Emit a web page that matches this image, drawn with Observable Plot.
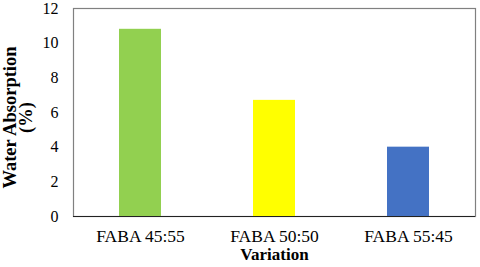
<!DOCTYPE html>
<html>
<head>
<meta charset="utf-8">
<script src="https://cdn.jsdelivr.net/npm/d3@7"></script>
<script src="https://cdn.jsdelivr.net/npm/@observablehq/plot@0.6"></script>
<style>
  html, body { margin: 0; padding: 0; background: #fff; }
  #chart svg { display: block; }
</style>
</head>
<body>
<div id="chart"></div>
<script>
const categories = ["FABA 45:55", "FABA 50:50", "FABA 55:45"];
const values = [10.8, 6.7, 4.0];
const colors = ["#92D050", "#FFFF00", "#4472C4"];
const yTicks = [0, 2, 4, 6, 8, 10, 12];
const yLabel = "Water Absorption\n(%)";
const xLabel = "Variation";

const data = categories.map((c, i) => ({category: c, value: values[i], color: colors[i]}));

const chart = Plot.plot({
  width: 480,
  height: 267,
  marginLeft: 73,
  marginRight: 5,
  marginTop: 8,
  marginBottom: 51,
  style: "font-family: 'Liberation Serif'; background: #fff; color: #000;",
  x: {domain: categories, paddingInner: 0.687, paddingOuter: 0.3435, label: null},
  y: {domain: [0, 12], label: null},
  marks: [
    Plot.frame({stroke: "#808080", strokeWidth: 1.2}),
    Plot.barY(data, {x: "category", y: "value", fill: "color"}),
    Plot.ruleX([0], {frameAnchor: "left", stroke: "#222", strokeWidth: 1.2}),
    Plot.ruleY([0], {stroke: "#222", strokeWidth: 1.2}),
    Plot.axisY({ticks: yTicks, tickSize: 0, tickPadding: 15, fontSize: 16, label: null}),
    Plot.axisX({tickSize: 0, tickPadding: 13, fontSize: 17.5, label: null}),
    Plot.text([yLabel], {frameAnchor: "left", dx: -55, dy: 5, rotate: -90, fontSize: 18.5, fontWeight: "bold", lineHeight: 0.9, textAnchor: "middle", lineAnchor: "middle"}),
    Plot.text([xLabel], {frameAnchor: "bottom", dy: 43.5, fontSize: 17, fontWeight: "bold", textAnchor: "middle"})
  ]
});
d3.select(chart).selectAll("text").style("font-family", "Liberation Serif");
document.getElementById("chart").appendChild(chart);
</script>
</body>
</html>
